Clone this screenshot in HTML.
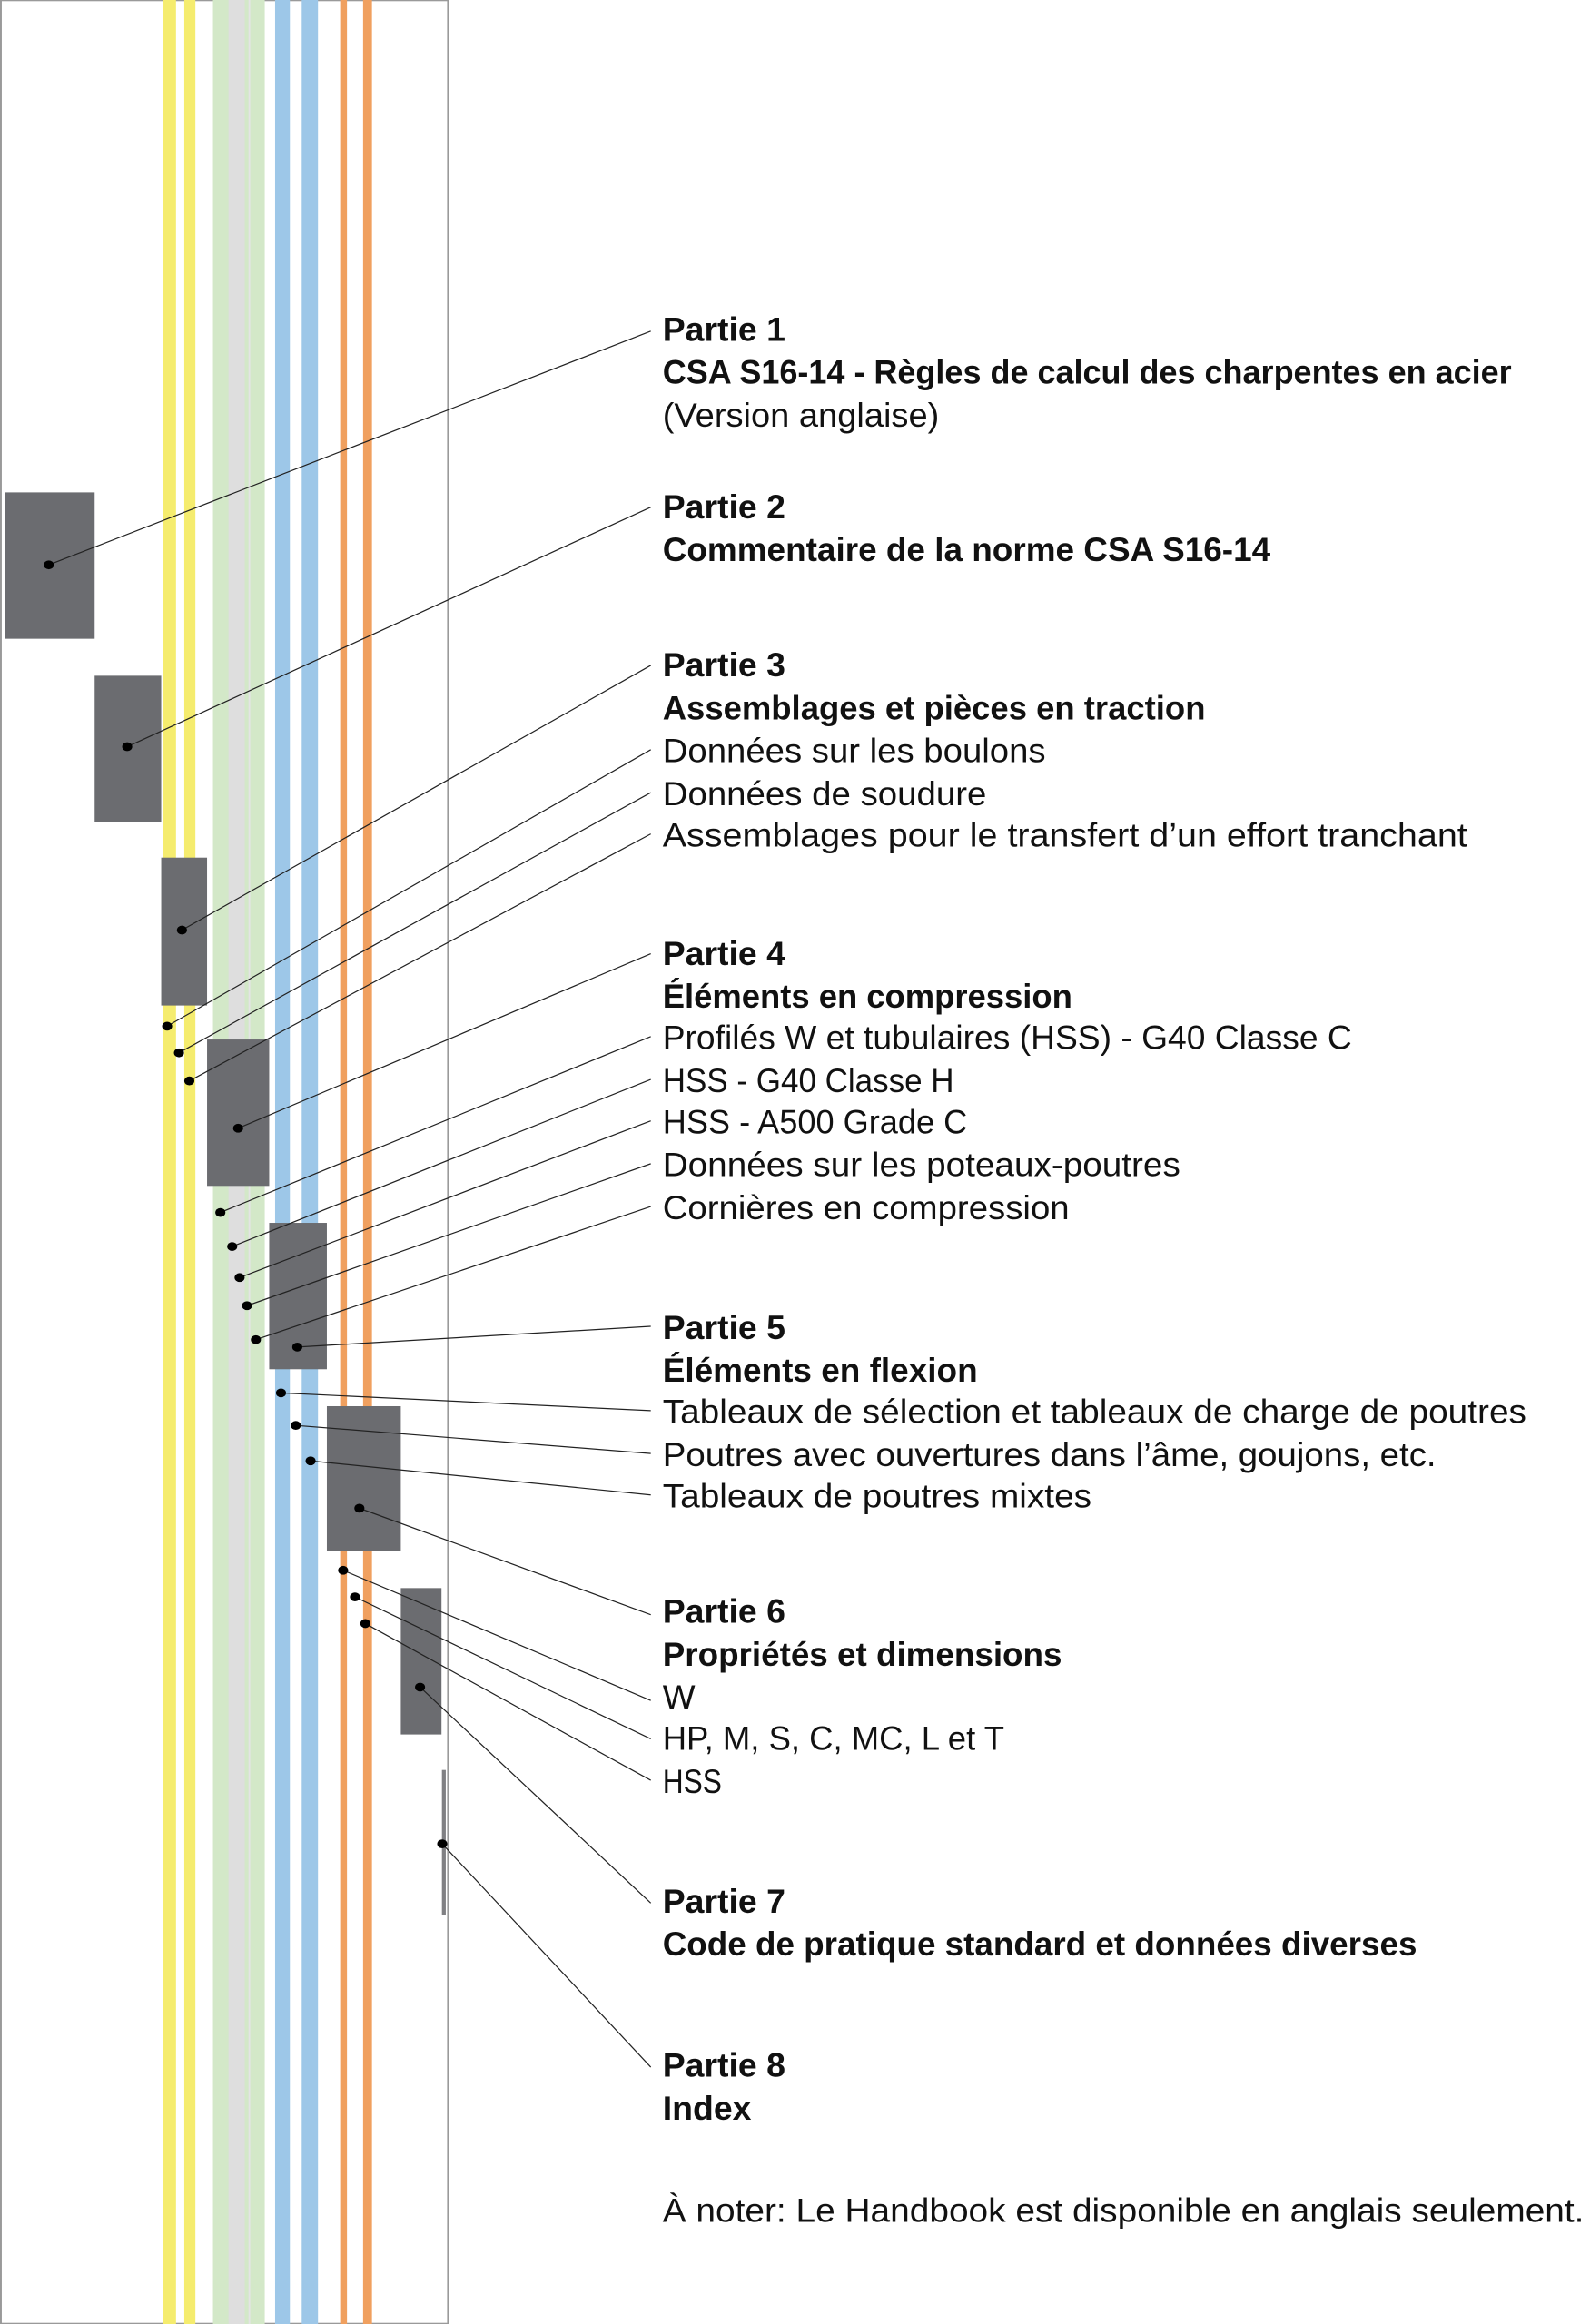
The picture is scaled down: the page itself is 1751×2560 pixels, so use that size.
<!DOCTYPE html>
<html><head><meta charset="utf-8"><style>html,body{margin:0;padding:0;background:#fff}svg{display:block}</style></head>
<body>
<svg xmlns="http://www.w3.org/2000/svg" width="1751" height="2560" viewBox="0 0 1075 1571.7" preserveAspectRatio="none" font-family="'Liberation Sans', sans-serif">
<rect x="0" y="0" width="1075" height="1571.7" fill="#fff"/>
<rect x="0" y="0" width="1.2" height="1571.7" fill="#9a9a9a"/>
<rect x="0" y="0" width="303" height="0.8" fill="#9a9a9a"/>
<rect x="0" y="1570.9" width="303" height="0.8" fill="#9a9a9a"/>
<rect x="110.5" y="0" width="8.5" height="1571.7" fill="#f5ec6e"/>
<rect x="124.6" y="0" width="7.5" height="1571.7" fill="#f5ec6e"/>
<rect x="144" y="0" width="35" height="1571.7" fill="#d3e8c8"/>
<rect x="154.5" y="0" width="11" height="1571.7" fill="#dedede"/>
<rect x="168" y="0" width="1.2" height="1571.7" fill="#e4e4e4"/>
<rect x="186" y="0" width="10" height="1571.7" fill="#9dc7e8"/>
<rect x="204" y="0" width="11" height="1571.7" fill="#9dc7e8"/>
<rect x="230" y="0" width="4.6" height="1571.7" fill="#f0a05f"/>
<rect x="245.5" y="0" width="6" height="1571.7" fill="#f0a05f"/>
<rect x="302.3" y="0" width="1.2" height="1571.7" fill="#9a9a9a"/>
<g fill="#6b6c70">
<rect x="3.5" y="333" width="60.5" height="99"/>
<rect x="64" y="457" width="45" height="99"/>
<rect x="109" y="580" width="31" height="100"/>
<rect x="140" y="703" width="42" height="99"/>
<rect x="182" y="827" width="39" height="99"/>
<rect x="221" y="951" width="50" height="98"/>
<rect x="271" y="1074" width="27.5" height="99"/>
<rect x="298.8" y="1197" width="2.6" height="98" fill="#808083"/>
</g>
<g stroke="#222" stroke-width="0.75" fill="none">
<line x1="440" y1="224" x2="33" y2="382"/>
<line x1="440" y1="343" x2="86" y2="505"/>
<line x1="440" y1="450" x2="123" y2="629"/>
<line x1="440" y1="507" x2="113" y2="694"/>
<line x1="440" y1="536" x2="121" y2="712"/>
<line x1="440" y1="564" x2="128" y2="731"/>
<line x1="440" y1="645" x2="161" y2="763"/>
<line x1="440" y1="701" x2="149" y2="820"/>
<line x1="440" y1="730" x2="157" y2="843"/>
<line x1="440" y1="758" x2="162" y2="864"/>
<line x1="440" y1="787" x2="167" y2="883"/>
<line x1="440" y1="816" x2="173" y2="906"/>
<line x1="440" y1="897" x2="201" y2="911"/>
<line x1="440" y1="954" x2="190" y2="942"/>
<line x1="440" y1="983" x2="200" y2="964"/>
<line x1="440" y1="1011" x2="210" y2="988"/>
<line x1="440" y1="1092" x2="243" y2="1020"/>
<line x1="440" y1="1150" x2="232" y2="1062"/>
<line x1="440" y1="1176" x2="240" y2="1080"/>
<line x1="440" y1="1204" x2="247" y2="1098"/>
<line x1="440" y1="1287" x2="284" y2="1141"/>
<line x1="440" y1="1398" x2="299" y2="1247"/>
</g>
<g fill="#000">
<ellipse cx="33" cy="382" rx="3.4" ry="3"/>
<ellipse cx="86" cy="505" rx="3.4" ry="3"/>
<ellipse cx="123" cy="629" rx="3.4" ry="3"/>
<ellipse cx="113" cy="694" rx="3.4" ry="3"/>
<ellipse cx="121" cy="712" rx="3.4" ry="3"/>
<ellipse cx="128" cy="731" rx="3.4" ry="3"/>
<ellipse cx="161" cy="763" rx="3.4" ry="3"/>
<ellipse cx="149" cy="820" rx="3.4" ry="3"/>
<ellipse cx="157" cy="843" rx="3.4" ry="3"/>
<ellipse cx="162" cy="864" rx="3.4" ry="3"/>
<ellipse cx="167" cy="883" rx="3.4" ry="3"/>
<ellipse cx="173" cy="906" rx="3.4" ry="3"/>
<ellipse cx="201" cy="911" rx="3.4" ry="3"/>
<ellipse cx="190" cy="942" rx="3.4" ry="3"/>
<ellipse cx="200" cy="964" rx="3.4" ry="3"/>
<ellipse cx="210" cy="988" rx="3.4" ry="3"/>
<ellipse cx="243" cy="1020" rx="3.4" ry="3"/>
<ellipse cx="232" cy="1062" rx="3.4" ry="3"/>
<ellipse cx="240" cy="1080" rx="3.4" ry="3"/>
<ellipse cx="247" cy="1098" rx="3.4" ry="3"/>
<ellipse cx="284" cy="1141" rx="3.4" ry="3"/>
<ellipse cx="299" cy="1247" rx="3.4" ry="3"/>
</g>
<g font-size="23" fill="#111">
<text x="448" y="230.5" font-weight="bold" textLength="83" lengthAdjust="spacingAndGlyphs">Partie 1</text>
<text x="448" y="259.5" font-weight="bold" textLength="574" lengthAdjust="spacingAndGlyphs">CSA S16-14 - Règles de calcul des charpentes en acier</text>
<text x="448" y="288.5" textLength="187" lengthAdjust="spacingAndGlyphs">(Version anglaise)</text>
<text x="448" y="350.5" font-weight="bold" textLength="83" lengthAdjust="spacingAndGlyphs">Partie 2</text>
<text x="448" y="379.5" font-weight="bold" textLength="411" lengthAdjust="spacingAndGlyphs">Commentaire de la norme CSA S16-14</text>
<text x="448" y="457.5" font-weight="bold" textLength="83" lengthAdjust="spacingAndGlyphs">Partie 3</text>
<text x="448" y="486.5" font-weight="bold" textLength="367" lengthAdjust="spacingAndGlyphs">Assemblages et pièces en traction</text>
<text x="448" y="515.5" textLength="259" lengthAdjust="spacingAndGlyphs">Données sur les boulons</text>
<text x="448" y="544.5" textLength="219" lengthAdjust="spacingAndGlyphs">Données de soudure</text>
<text x="448" y="572.5" textLength="544" lengthAdjust="spacingAndGlyphs">Assemblages pour le transfert d’un effort tranchant</text>
<text x="448" y="652.5" font-weight="bold" textLength="83" lengthAdjust="spacingAndGlyphs">Partie 4</text>
<text x="448" y="681.5" font-weight="bold" textLength="277" lengthAdjust="spacingAndGlyphs">Éléments en compression</text>
<text x="448" y="709.5" textLength="466" lengthAdjust="spacingAndGlyphs">Profilés W et tubulaires (HSS) - G40 Classe C</text>
<text x="448" y="738.5" textLength="197" lengthAdjust="spacingAndGlyphs">HSS - G40 Classe H</text>
<text x="448" y="766.5" textLength="206" lengthAdjust="spacingAndGlyphs">HSS - A500 Grade C</text>
<text x="448" y="795.5" textLength="350" lengthAdjust="spacingAndGlyphs">Données sur les poteaux-poutres</text>
<text x="448" y="824.5" textLength="275" lengthAdjust="spacingAndGlyphs">Cornières en compression</text>
<text x="448" y="905.5" font-weight="bold" textLength="83" lengthAdjust="spacingAndGlyphs">Partie 5</text>
<text x="448" y="934.5" font-weight="bold" textLength="213" lengthAdjust="spacingAndGlyphs">Éléments en flexion</text>
<text x="448" y="962.5" textLength="584" lengthAdjust="spacingAndGlyphs">Tableaux de sélection et tableaux de charge de poutres</text>
<text x="448" y="991.5" textLength="523" lengthAdjust="spacingAndGlyphs">Poutres avec ouvertures dans l’âme, goujons, etc.</text>
<text x="448" y="1019.5" textLength="290" lengthAdjust="spacingAndGlyphs">Tableaux de poutres mixtes</text>
<text x="448" y="1097.5" font-weight="bold" textLength="83" lengthAdjust="spacingAndGlyphs">Partie 6</text>
<text x="448" y="1126.5" font-weight="bold" textLength="270" lengthAdjust="spacingAndGlyphs">Propriétés et dimensions</text>
<text x="448" y="1155.5" textLength="22" lengthAdjust="spacingAndGlyphs">W</text>
<text x="448" y="1183.5" textLength="231" lengthAdjust="spacingAndGlyphs">HP, M, S, C, MC, L et T</text>
<text x="448" y="1212.5" textLength="40" lengthAdjust="spacingAndGlyphs">HSS</text>
<text x="448" y="1293.5" font-weight="bold" textLength="83" lengthAdjust="spacingAndGlyphs">Partie 7</text>
<text x="448" y="1322.5" font-weight="bold" textLength="510" lengthAdjust="spacingAndGlyphs">Code de pratique standard et données diverses</text>
<text x="448" y="1404.5" font-weight="bold" textLength="83" lengthAdjust="spacingAndGlyphs">Partie 8</text>
<text x="448" y="1433.5" font-weight="bold" textLength="60" lengthAdjust="spacingAndGlyphs">Index</text>
<text x="448" y="1502.5" textLength="623" lengthAdjust="spacingAndGlyphs">À noter: Le Handbook est disponible en anglais seulement.</text>
</g>
</svg>
</body></html>
